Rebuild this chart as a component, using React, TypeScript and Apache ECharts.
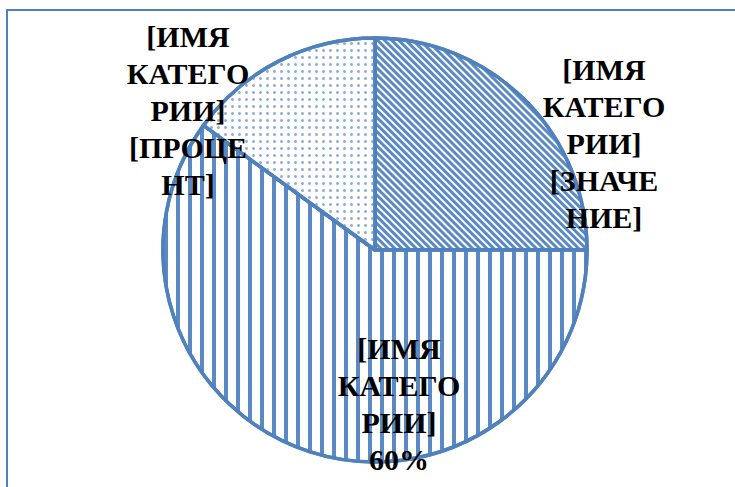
import React, { useEffect, useRef } from "react";
import * as echarts from "echarts";

const categories = ["[ИМЯ КАТЕГОРИИ]", "[ИМЯ КАТЕГОРИИ]", "[ИМЯ КАТЕГОРИИ]"];
const values = [25, 60, 15];
const labelLines = [
  ["[ИМЯ", "КАТЕГО", "РИИ]", "[ЗНАЧЕ", "НИЕ]"],
  ["[ИМЯ", "КАТЕГО", "РИИ]", "60%"],
  ["[ИМЯ", "КАТЕГО", "РИИ]", "[ПРОЦЕ", "НТ]"],
];

const BLUE = "#4F81BD";

export default function App() {
  const ref = useRef<HTMLDivElement>(null);
  useEffect(() => {
    if (!ref.current) return;
    const chart = echarts.init(ref.current, null, { renderer: "svg" });
    const labelPos = [
      [604, 143],
      [399, 404],
      [188, 110],
    ];
    const decals = [
      {
        symbol: "rect",
        symbolSize: 1,
        dashArrayX: [1, 0],
        dashArrayY: [2.4, 1.7],
        rotation: Math.PI / 4,
        color: "#5A89C4",
        backgroundColor: "#ffffff",
      },
      {
        symbol: "rect",
        symbolSize: 1,
        dashArrayX: [1, 0],
        dashArrayY: [3.5, 7.3],
        rotation: Math.PI / 2,
        color: "#5A89C4",
        backgroundColor: "#ffffff",
      },
      {
        symbol: "circle",
        symbolSize: 1,
        dashArrayX: [2.4, 3.1],
        dashArrayY: [2.4, 3.1],
        rotation: 0,
        color: "#8EAFD9",
        backgroundColor: "#ffffff",
      },
    ];
    chart.setOption({
      animation: false,
      backgroundColor: "#ffffff",
      graphic: [
        {
          type: "rect",
          shape: { x: 7, y: 10, width: 900, height: 700 },
          style: { fill: "none", stroke: BLUE, lineWidth: 2 },
          z: 0,
        },
      ],
      series: [
        {
          type: "pie",
          center: [375, 250],
          radius: 212,
          startAngle: 90,
          clockwise: true,
          avoidLabelOverlap: false,
          labelLine: { show: false },
          label: {
            show: true,
            position: "outside",
            fontFamily: "Liberation Serif",
            fontWeight: "bold",
            fontSize: 30,
            lineHeight: 37,
            color: "#000000",
            align: "center",
            formatter: (p: any) => labelLines[p.dataIndex].join("\n"),
          },
          labelLayout: (p: any) => ({
            x: labelPos[p.dataIndex][0],
            y: labelPos[p.dataIndex][1],
            align: "center",
            verticalAlign: "middle",
          }),
          emphasis: { disabled: true },
          data: values.map((v, i) => ({
            name: categories[i],
            value: v,
            itemStyle: {
              color: "#ffffff",
              borderColor: BLUE,
              borderWidth: 3.5,
              decal: decals[i],
            },
          })),
        },
      ],
    });
    return () => chart.dispose();
  }, []);
  return (
    <div
      ref={ref}
      style={{ position: "fixed", left: 0, top: 0, width: 735, height: 487 }}
    />
  );
}
